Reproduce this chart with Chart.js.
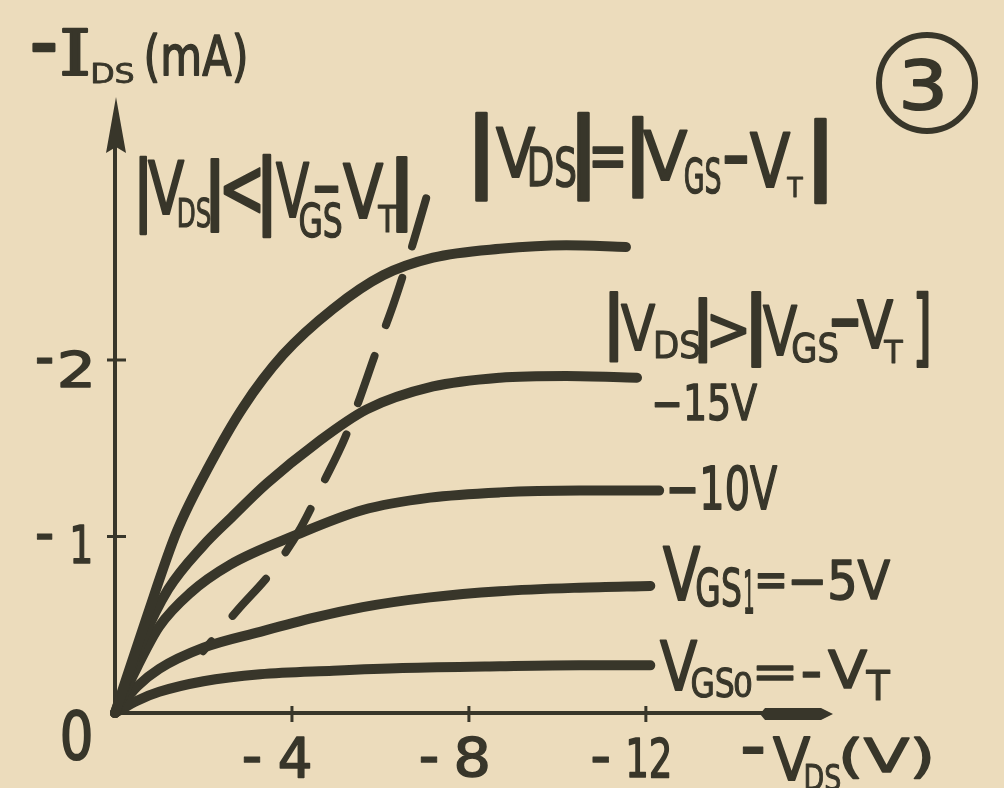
<!DOCTYPE html>
<html>
<head>
<meta charset="utf-8">
<script src="https://cdn.jsdelivr.net/npm/chart.js@4.4.1/dist/chart.umd.min.js"></script>
<style>
  html, body { margin: 0; padding: 0; background: #ecdcbc; }
  canvas { display: block; }
</style>
</head>
<body>
<canvas id="c" width="1004" height="788"></canvas>
<script>
// Output characteristics of a p-channel enhancement MOSFET: -I_DS (mA) against -V_DS (V)

// Upper (unlabelled) gate-voltage curve
const vdsUpper = [0, -0.7, -1.4, -2.15, -2.89, -3.8, -4.93, -6.06, -7.19, -8.7, -10.2, -11.55];
const idsUpper = [0, -0.53, -1.03, -1.41, -1.73, -2.03, -2.29, -2.48, -2.58, -2.63, -2.65, -2.64];

// V_GS = -15 V
const vds15 = [0, -0.6, -1.2, -2.0, -2.6, -3.43, -4.56, -5.69, -7.19, -8.7, -10.2, -11.8];
const ids15 = [0, -0.4, -0.7, -0.95, -1.1, -1.3, -1.53, -1.72, -1.85, -1.9, -1.91, -1.9];

// V_GS = -10 V
const vds10 = [0, -0.5, -1.0, -1.7, -2.6, -4.11, -5.6, -7.12, -8.7, -10.5, -12.3];
const ids10 = [0, -0.26, -0.49, -0.68, -0.84, -1.01, -1.15, -1.22, -1.25, -1.26, -1.26];

// V_GS1 = -5 V
const vds5 = [0, -0.5, -1.0, -2.0, -3.28, -4.5, -5.6, -7.12, -8.7, -10.5, -12.1];
const ids5 = [0, -0.15, -0.25, -0.37, -0.46, -0.54, -0.6, -0.655, -0.69, -0.71, -0.72];

// V_GS0 = -V_T
const vds0 = [0, -0.5, -1.0, -2.0, -3.28, -4.93, -6.5, -8.7, -10.5, -12.1];
const ids0 = [0, -0.07, -0.12, -0.18, -0.22, -0.24, -0.255, -0.265, -0.27, -0.27];

// Boundary |V_DS| = |V_GS - V_T| (dashed)
const vdsEdge = [-1.99, -2.76, -3.57, -4.2, -4.7, -5.2, -5.5, -5.92, -6.3, -6.71, -7.05];
const idsEdge = [-0.35, -0.58, -0.81, -1.05, -1.30, -1.56, -1.76, -2.06, -2.32, -2.64, -2.93];

// Axis ticks
const xTickValues = [-4, -8, -12];
const yTickValues = [0, -1, -2];

const INK = 'rgb(56,54,42)';
const PAPER = '#ecdcbc';
const SANS = '"DejaVu Sans", "Liberation Sans", sans-serif';
const SERIF = '"DejaVu Serif", "Liberation Serif", serif';

// Draw text so that its ink fills the box (x0,y0)-(x1,y1)
function fitText(ctx, t, x0, y0, x1, y1, family) {
  ctx.save();
  ctx.font = '100px ' + (family || SANS);
  ctx.textAlign = 'left';
  ctx.textBaseline = 'alphabetic';
  const m = ctx.measureText(t);
  const w = m.actualBoundingBoxLeft + m.actualBoundingBoxRight;
  const h = m.actualBoundingBoxAscent + m.actualBoundingBoxDescent;
  ctx.translate(x0, y0);
  ctx.scale((x1 - x0) / w, (y1 - y0) / h);
  ctx.fillStyle = INK;
  ctx.strokeStyle = INK;
  ctx.lineWidth = 3;
  ctx.lineJoin = 'round';
  ctx.fillText(t, m.actualBoundingBoxLeft, m.actualBoundingBoxAscent);
  ctx.strokeText(t, m.actualBoundingBoxLeft, m.actualBoundingBoxAscent);
  ctx.restore();
}

// Text placements: [text, x0, y0, x1, y1, family]
const titleY = [
  ['-', 33, 44, 55, 51], ['I', 63, 28, 87, 75, SERIF], ['DS', 93, 63, 133, 83], ['(mA)', 147, 33, 245, 82]
];
const titleX = [
  ['\u2212', 743, 747, 763, 753], ['V', 773, 737, 810, 780], ['DS', 806, 763, 840, 790], ['(V)', 843, 737, 930, 778]
];
const noteLinear = [
  ['|', 140, 157, 146, 233], ['V', 148, 161, 184, 214], ['DS', 179, 198, 210, 227], ['|', 211, 160, 218, 233],
  ['<', 224, 168, 260, 213], ['|', 263, 155, 270, 237], ['V', 276, 163, 309, 217], ['GS', 300, 202, 341, 237],
  ['\u2212', 315, 186, 338, 192], ['V', 343, 164, 383, 218], ['T', 378, 205, 397, 232], ['|', 397, 158, 406, 232]
];
const noteEdge = [
  ['|', 476, 112, 486, 200], ['V', 496, 127, 535, 177], ['DS', 530, 147, 575, 187], ['|', 578, 113, 588, 200],
  ['=', 593, 147, 623, 167], ['|', 633, 117, 642, 197], ['V', 643, 130, 687, 180], ['GS', 685, 157, 720, 193],
  ['\u2212', 725, 156, 747, 163], ['V', 750, 133, 790, 187], ['T', 787, 177, 803, 197], ['|', 815, 120, 825, 203]
];
const noteSat = [
  ['|', 610, 293, 617, 362], ['V', 621, 305, 655, 350], ['DS', 656, 330, 699, 358], ['|', 699, 298, 706, 362],
  ['>', 711, 315, 746, 348], ['|', 752, 293, 760, 367], ['V', 763, 305, 797, 355], ['GS', 793, 332, 837, 362],
  ['\u2212', 832, 319, 858, 326], ['V', 857, 300, 893, 348], ['T', 884, 340, 903, 363], [']', 917, 293, 928, 367]
];
const curveLabels = [
  ['\u221215V', 655, 383, 757, 420],
  ['\u221210V', 670, 465, 777, 510],
  ['V', 663, 547, 700, 600], ['GS', 697, 568, 740, 607], ['1', 745, 570, 753, 613],
  ['=', 758, 573, 784, 588], ['\u22125V', 792, 560, 890, 600],
  ['V', 660, 640, 697, 690], ['GS', 692, 667, 733, 697], ['0', 735, 672, 751, 697],
  ['=', 757, 666, 793, 680], ['\u2212', 803, 672, 820, 677], ['V', 828, 650, 867, 688], ['T', 866, 670, 890, 700]
];

const paperPlugin = {
  id: 'paper',
  beforeDraw(chart) {
    const ctx = chart.ctx;
    ctx.save();
    ctx.fillStyle = PAPER;
    ctx.fillRect(0, 0, chart.width, chart.height);
    ctx.restore();
  }
};

const axesPlugin = {
  id: 'handAxes',
  beforeDatasetsDraw(chart) {
    const { ctx, scales: { x, y } } = chart;
    const ox = x.getPixelForValue(0), oy = y.getPixelForValue(0);
    const xEnd = x.getPixelForValue(x.min), yEnd = y.getPixelForValue(y.min);
    ctx.save();
    ctx.strokeStyle = INK;
    ctx.fillStyle = INK;
    ctx.lineWidth = 4;
    ctx.beginPath(); ctx.moveTo(ox, oy + 2); ctx.lineTo(ox, yEnd + 20); ctx.stroke();
    ctx.beginPath(); ctx.moveTo(ox - 2, oy); ctx.lineTo(xEnd - 6, oy); ctx.stroke();
    // arrow heads
    ctx.beginPath();
    ctx.moveTo(ox + 1, yEnd); ctx.lineTo(ox + 11, yEnd + 56); ctx.lineTo(ox + 1, yEnd + 50); ctx.lineTo(ox - 9, yEnd + 56);
    ctx.closePath(); ctx.fill();
    ctx.beginPath();
    ctx.moveTo(xEnd, oy + 1); ctx.lineTo(xEnd - 12, oy - 5); ctx.lineTo(xEnd - 68, oy - 5);
    ctx.lineTo(xEnd - 73, oy + 1); ctx.lineTo(xEnd - 68, oy + 7); ctx.lineTo(xEnd - 12, oy + 7);
    ctx.closePath(); ctx.fill();
    // tick marks
    ctx.lineWidth = 3;
    x.ticks.forEach(t => {
      if (t.value === 0) return;
      const px = x.getPixelForValue(t.value);
      ctx.beginPath(); ctx.moveTo(px, oy - 7); ctx.lineTo(px, oy + 9); ctx.stroke();
    });
    y.ticks.forEach(t => {
      if (t.value === 0) return;
      const py = y.getPixelForValue(t.value);
      ctx.beginPath(); ctx.moveTo(ox - 8, py); ctx.lineTo(ox + 11, py); ctx.stroke();
    });
    ctx.restore();
  },
  afterDatasetsDraw(chart) {
    const { ctx, scales: { x, y } } = chart;
    ctx.save();
    const ox = x.getPixelForValue(0), oy = y.getPixelForValue(0);
    const split = t => {
      const s = String(t.label != null ? t.label : t.value);
      return /^[-\u2212]/.test(s) ? ['\u2212', s.slice(1)] : ['', s];
    };
    // x tick labels
    x.ticks.forEach(t => {
      if (t.value === 0) return;
      const px = x.getPixelForValue(t.value);
      const [sign, digits] = split(t);
      const w = digits.length > 1 ? 40 : 30;
      const l = px + 3 - w / 2;
      fitText(ctx, digits, l, oy + 24, l + w, oy + 64);
      if (sign) fitText(ctx, sign, l - 36, oy + 44, l - 20, oy + 49);
    });
    // y tick labels
    y.ticks.forEach(t => {
      const [sign, digits] = split(t);
      if (t.value === 0) {
        fitText(ctx, digits, ox - 52, oy - 3, ox - 25, oy + 47);
        return;
      }
      const py = y.getPixelForValue(t.value);
      const w = digits === '1' ? 17 : 29;
      fitText(ctx, digits, ox - 25 - w, py - 10, ox - 25, py + 27);
      if (sign) fitText(ctx, sign, ox - 78, py - 2, ox - 63, py + 3);
    });
    [titleY, titleX, noteLinear, noteEdge, noteSat, curveLabels].forEach(group =>
      group.forEach(p => fitText(ctx, p[0], p[1], p[2], p[3], p[4], p[5])));
    // figure number
    ctx.strokeStyle = INK;
    ctx.lineWidth = 6;
    ctx.beginPath(); ctx.arc(927, 83, 48, 0, Math.PI * 2); ctx.stroke();
    fitText(ctx, '3', 904, 58, 942, 110);
    ctx.restore();
  }
};

const pts = (vx, vy) => vx.map((v, i) => ({ x: v, y: vy[i] }));
const solid = (vx, vy) => ({
  data: pts(vx, vy),
  borderColor: INK,
  borderWidth: 10,
  borderCapStyle: 'round',
  borderJoinStyle: 'round',
  cubicInterpolationMode: 'monotone',
  pointRadius: 0,
  fill: false,
  clip: false
});

new Chart(document.getElementById('c'), {
  type: 'line',
  data: {
    datasets: [
      solid(vdsUpper, idsUpper),
      solid(vds15, ids15),
      solid(vds10, ids10),
      solid(vds5, ids5),
      solid(vds0, ids0),
      {
        data: pts(vdsEdge, idsEdge),
        borderColor: INK,
        borderWidth: 8,
        borderDash: [50, 33],
        borderDashOffset: 37,
        borderCapStyle: 'round',
        cubicInterpolationMode: 'monotone',
        pointRadius: 0,
        fill: false,
        clip: false
      }
    ]
  },
  options: {
    responsive: false,
    devicePixelRatio: 1,
    animation: false,
    layout: { padding: { left: 115, right: 171, top: 97, bottom: 75 } },
    plugins: { legend: { display: false }, tooltip: { enabled: false } },
    scales: {
      x: {
        type: 'linear', display: false, min: -16.23, max: 0, reverse: true,
        afterBuildTicks: s => { s.ticks = xTickValues.map(v => ({ value: v })); }
      },
      y: {
        type: 'linear', display: false, min: -3.49, max: 0, reverse: true,
        afterBuildTicks: s => { s.ticks = yTickValues.map(v => ({ value: v })); }
      }
    }
  },
  plugins: [paperPlugin, axesPlugin]
});
</script>
</body>
</html>
